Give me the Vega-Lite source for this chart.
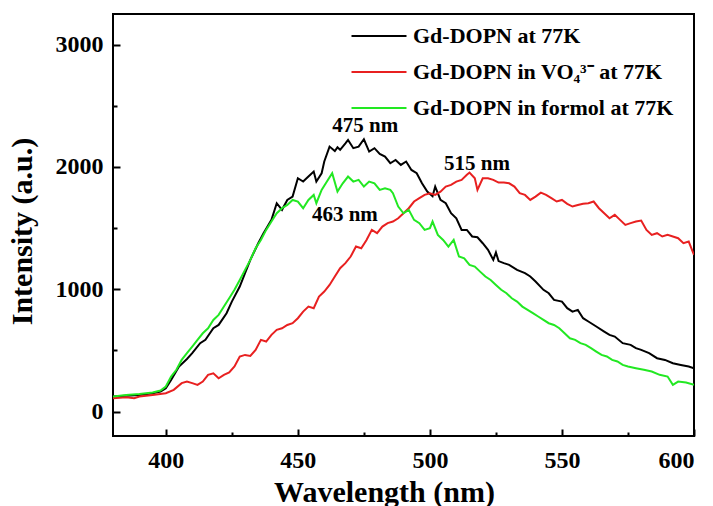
{
  "$schema": "https://vega.github.io/schema/vega-lite/v6.json",
  "width": 581,
  "height": 422,
  "autosize": {"type": "none"},
  "padding": {"left": 113, "top": 14, "right": 19, "bottom": 70},
  "background": "white",
  "config": {
    "view": {"stroke": "black", "strokeWidth": 2},
    "axis": {"grid": false, "domain": false, "tickColor": "black", "tickWidth": 2, "labelColor": "black", "titleColor": "black", "labelFont": "Liberation Serif", "titleFont": "Liberation Serif", "labelFontWeight": "bold", "titleFontWeight": "bold"}
  },
  "datasets": {
    "spectra": [
      {"series":"Gd-DOPN at 77K","wl":380,"intensity":123},{"series":"Gd-DOPN at 77K","wl":385,"intensity":130},{"series":"Gd-DOPN at 77K","wl":390,"intensity":136},{"series":"Gd-DOPN at 77K","wl":395,"intensity":150},{"series":"Gd-DOPN at 77K","wl":398,"intensity":163},{"series":"Gd-DOPN at 77K","wl":400,"intensity":191},{"series":"Gd-DOPN at 77K","wl":402,"intensity":259},{"series":"Gd-DOPN at 77K","wl":405,"intensity":368},{"series":"Gd-DOPN at 77K","wl":408,"intensity":430},{"series":"Gd-DOPN at 77K","wl":410,"intensity":477},{"series":"Gd-DOPN at 77K","wl":413,"intensity":559},{"series":"Gd-DOPN at 77K","wl":415,"intensity":586},{"series":"Gd-DOPN at 77K","wl":418,"intensity":681},{"series":"Gd-DOPN at 77K","wl":420,"intensity":708},{"series":"Gd-DOPN at 77K","wl":423,"intensity":804},{"series":"Gd-DOPN at 77K","wl":425,"intensity":899},{"series":"Gd-DOPN at 77K","wl":428,"intensity":1022},{"series":"Gd-DOPN at 77K","wl":430,"intensity":1131},{"series":"Gd-DOPN at 77K","wl":432,"intensity":1240},{"series":"Gd-DOPN at 77K","wl":435,"intensity":1376},{"series":"Gd-DOPN at 77K","wl":437,"intensity":1458},{"series":"Gd-DOPN at 77K","wl":440,"intensity":1567},{"series":"Gd-DOPN at 77K","wl":442,"intensity":1703},{"series":"Gd-DOPN at 77K","wl":444,"intensity":1649},{"series":"Gd-DOPN at 77K","wl":446,"intensity":1730},{"series":"Gd-DOPN at 77K","wl":448,"intensity":1757},{"series":"Gd-DOPN at 77K","wl":450,"intensity":1907},{"series":"Gd-DOPN at 77K","wl":452,"intensity":1880},{"series":"Gd-DOPN at 77K","wl":454,"intensity":1921},{"series":"Gd-DOPN at 77K","wl":456,"intensity":1962},{"series":"Gd-DOPN at 77K","wl":457,"intensity":1880},{"series":"Gd-DOPN at 77K","wl":459,"intensity":1948},{"series":"Gd-DOPN at 77K","wl":460,"intensity":2044},{"series":"Gd-DOPN at 77K","wl":462,"intensity":2166},{"series":"Gd-DOPN at 77K","wl":464,"intensity":2130},{"series":"Gd-DOPN at 77K","wl":465,"intensity":2160},{"series":"Gd-DOPN at 77K","wl":466,"intensity":2140},{"series":"Gd-DOPN at 77K","wl":468,"intensity":2193},{"series":"Gd-DOPN at 77K","wl":469,"intensity":2221},{"series":"Gd-DOPN at 77K","wl":471,"intensity":2153},{"series":"Gd-DOPN at 77K","wl":473,"intensity":2166},{"series":"Gd-DOPN at 77K","wl":475,"intensity":2226},{"series":"Gd-DOPN at 77K","wl":477,"intensity":2125},{"series":"Gd-DOPN at 77K","wl":479,"intensity":2153},{"series":"Gd-DOPN at 77K","wl":481,"intensity":2106},{"series":"Gd-DOPN at 77K","wl":483,"intensity":2084},{"series":"Gd-DOPN at 77K","wl":485,"intensity":2030},{"series":"Gd-DOPN at 77K","wl":487,"intensity":2057},{"series":"Gd-DOPN at 77K","wl":489,"intensity":2016},{"series":"Gd-DOPN at 77K","wl":491,"intensity":2044},{"series":"Gd-DOPN at 77K","wl":493,"intensity":1975},{"series":"Gd-DOPN at 77K","wl":495,"intensity":1948},{"series":"Gd-DOPN at 77K","wl":497,"intensity":1866},{"series":"Gd-DOPN at 77K","wl":499,"intensity":1798},{"series":"Gd-DOPN at 77K","wl":501,"intensity":1760},{"series":"Gd-DOPN at 77K","wl":502,"intensity":1839},{"series":"Gd-DOPN at 77K","wl":504,"intensity":1730},{"series":"Gd-DOPN at 77K","wl":506,"intensity":1703},{"series":"Gd-DOPN at 77K","wl":508,"intensity":1621},{"series":"Gd-DOPN at 77K","wl":510,"intensity":1580},{"series":"Gd-DOPN at 77K","wl":512,"intensity":1485},{"series":"Gd-DOPN at 77K","wl":514,"intensity":1485},{"series":"Gd-DOPN at 77K","wl":516,"intensity":1431},{"series":"Gd-DOPN at 77K","wl":518,"intensity":1425},{"series":"Gd-DOPN at 77K","wl":520,"intensity":1376},{"series":"Gd-DOPN at 77K","wl":522,"intensity":1322},{"series":"Gd-DOPN at 77K","wl":524,"intensity":1240},{"series":"Gd-DOPN at 77K","wl":525,"intensity":1300},{"series":"Gd-DOPN at 77K","wl":526,"intensity":1230},{"series":"Gd-DOPN at 77K","wl":528,"intensity":1213},{"series":"Gd-DOPN at 77K","wl":530,"intensity":1199},{"series":"Gd-DOPN at 77K","wl":533,"intensity":1158},{"series":"Gd-DOPN at 77K","wl":536,"intensity":1131},{"series":"Gd-DOPN at 77K","wl":538,"intensity":1104},{"series":"Gd-DOPN at 77K","wl":540,"intensity":1063},{"series":"Gd-DOPN at 77K","wl":543,"intensity":995},{"series":"Gd-DOPN at 77K","wl":545,"intensity":967},{"series":"Gd-DOPN at 77K","wl":547,"intensity":913},{"series":"Gd-DOPN at 77K","wl":550,"intensity":899},{"series":"Gd-DOPN at 77K","wl":552,"intensity":845},{"series":"Gd-DOPN at 77K","wl":554,"intensity":817},{"series":"Gd-DOPN at 77K","wl":556,"intensity":831},{"series":"Gd-DOPN at 77K","wl":558,"intensity":763},{"series":"Gd-DOPN at 77K","wl":560,"intensity":736},{"series":"Gd-DOPN at 77K","wl":563,"intensity":695},{"series":"Gd-DOPN at 77K","wl":566,"intensity":654},{"series":"Gd-DOPN at 77K","wl":568,"intensity":627},{"series":"Gd-DOPN at 77K","wl":570,"intensity":613},{"series":"Gd-DOPN at 77K","wl":573,"intensity":559},{"series":"Gd-DOPN at 77K","wl":576,"intensity":545},{"series":"Gd-DOPN at 77K","wl":578,"intensity":518},{"series":"Gd-DOPN at 77K","wl":580,"intensity":504},{"series":"Gd-DOPN at 77K","wl":583,"intensity":477},{"series":"Gd-DOPN at 77K","wl":586,"intensity":436},{"series":"Gd-DOPN at 77K","wl":589,"intensity":422},{"series":"Gd-DOPN at 77K","wl":592,"intensity":395},{"series":"Gd-DOPN at 77K","wl":595,"intensity":381},{"series":"Gd-DOPN at 77K","wl":598,"intensity":368},{"series":"Gd-DOPN at 77K","wl":600,"intensity":354},

      {"series":"Gd-DOPN in VO₄³⁻ at 77K","wl":380,"intensity":109},{"series":"Gd-DOPN in VO₄³⁻ at 77K","wl":385,"intensity":117},{"series":"Gd-DOPN in VO₄³⁻ at 77K","wl":388,"intensity":109},{"series":"Gd-DOPN in VO₄³⁻ at 77K","wl":390,"intensity":123},{"series":"Gd-DOPN in VO₄³⁻ at 77K","wl":395,"intensity":136},{"series":"Gd-DOPN in VO₄³⁻ at 77K","wl":400,"intensity":150},{"series":"Gd-DOPN in VO₄³⁻ at 77K","wl":403,"intensity":177},{"series":"Gd-DOPN in VO₄³⁻ at 77K","wl":406,"intensity":232},{"series":"Gd-DOPN in VO₄³⁻ at 77K","wl":408,"intensity":245},{"series":"Gd-DOPN in VO₄³⁻ at 77K","wl":410,"intensity":232},{"series":"Gd-DOPN in VO₄³⁻ at 77K","wl":412,"intensity":218},{"series":"Gd-DOPN in VO₄³⁻ at 77K","wl":414,"intensity":245},{"series":"Gd-DOPN in VO₄³⁻ at 77K","wl":416,"intensity":300},{"series":"Gd-DOPN in VO₄³⁻ at 77K","wl":418,"intensity":313},{"series":"Gd-DOPN in VO₄³⁻ at 77K","wl":420,"intensity":272},{"series":"Gd-DOPN in VO₄³⁻ at 77K","wl":422,"intensity":300},{"series":"Gd-DOPN in VO₄³⁻ at 77K","wl":424,"intensity":319},{"series":"Gd-DOPN in VO₄³⁻ at 77K","wl":426,"intensity":368},{"series":"Gd-DOPN in VO₄³⁻ at 77K","wl":428,"intensity":450},{"series":"Gd-DOPN in VO₄³⁻ at 77K","wl":430,"intensity":463},{"series":"Gd-DOPN in VO₄³⁻ at 77K","wl":432,"intensity":455},{"series":"Gd-DOPN in VO₄³⁻ at 77K","wl":434,"intensity":504},{"series":"Gd-DOPN in VO₄³⁻ at 77K","wl":436,"intensity":586},{"series":"Gd-DOPN in VO₄³⁻ at 77K","wl":438,"intensity":572},{"series":"Gd-DOPN in VO₄³⁻ at 77K","wl":440,"intensity":627},{"series":"Gd-DOPN in VO₄³⁻ at 77K","wl":442,"intensity":668},{"series":"Gd-DOPN in VO₄³⁻ at 77K","wl":444,"intensity":681},{"series":"Gd-DOPN in VO₄³⁻ at 77K","wl":446,"intensity":708},{"series":"Gd-DOPN in VO₄³⁻ at 77K","wl":448,"intensity":722},{"series":"Gd-DOPN in VO₄³⁻ at 77K","wl":450,"intensity":763},{"series":"Gd-DOPN in VO₄³⁻ at 77K","wl":452,"intensity":817},{"series":"Gd-DOPN in VO₄³⁻ at 77K","wl":454,"intensity":858},{"series":"Gd-DOPN in VO₄³⁻ at 77K","wl":456,"intensity":845},{"series":"Gd-DOPN in VO₄³⁻ at 77K","wl":458,"intensity":940},{"series":"Gd-DOPN in VO₄³⁻ at 77K","wl":460,"intensity":981},{"series":"Gd-DOPN in VO₄³⁻ at 77K","wl":462,"intensity":1035},{"series":"Gd-DOPN in VO₄³⁻ at 77K","wl":464,"intensity":1104},{"series":"Gd-DOPN in VO₄³⁻ at 77K","wl":466,"intensity":1172},{"series":"Gd-DOPN in VO₄³⁻ at 77K","wl":468,"intensity":1213},{"series":"Gd-DOPN in VO₄³⁻ at 77K","wl":470,"intensity":1267},{"series":"Gd-DOPN in VO₄³⁻ at 77K","wl":472,"intensity":1349},{"series":"Gd-DOPN in VO₄³⁻ at 77K","wl":474,"intensity":1335},{"series":"Gd-DOPN in VO₄³⁻ at 77K","wl":476,"intensity":1403},{"series":"Gd-DOPN in VO₄³⁻ at 77K","wl":478,"intensity":1485},{"series":"Gd-DOPN in VO₄³⁻ at 77K","wl":480,"intensity":1458},{"series":"Gd-DOPN in VO₄³⁻ at 77K","wl":482,"intensity":1512},{"series":"Gd-DOPN in VO₄³⁻ at 77K","wl":484,"intensity":1540},{"series":"Gd-DOPN in VO₄³⁻ at 77K","wl":486,"intensity":1553},{"series":"Gd-DOPN in VO₄³⁻ at 77K","wl":488,"intensity":1580},{"series":"Gd-DOPN in VO₄³⁻ at 77K","wl":490,"intensity":1621},{"series":"Gd-DOPN in VO₄³⁻ at 77K","wl":492,"intensity":1662},{"series":"Gd-DOPN in VO₄³⁻ at 77K","wl":494,"intensity":1717},{"series":"Gd-DOPN in VO₄³⁻ at 77K","wl":496,"intensity":1744},{"series":"Gd-DOPN in VO₄³⁻ at 77K","wl":498,"intensity":1771},{"series":"Gd-DOPN in VO₄³⁻ at 77K","wl":500,"intensity":1785},{"series":"Gd-DOPN in VO₄³⁻ at 77K","wl":502,"intensity":1771},{"series":"Gd-DOPN in VO₄³⁻ at 77K","wl":504,"intensity":1798},{"series":"Gd-DOPN in VO₄³⁻ at 77K","wl":506,"intensity":1839},{"series":"Gd-DOPN in VO₄³⁻ at 77K","wl":508,"intensity":1853},{"series":"Gd-DOPN in VO₄³⁻ at 77K","wl":510,"intensity":1880},{"series":"Gd-DOPN in VO₄³⁻ at 77K","wl":512,"intensity":1894},{"series":"Gd-DOPN in VO₄³⁻ at 77K","wl":514,"intensity":1935},{"series":"Gd-DOPN in VO₄³⁻ at 77K","wl":515,"intensity":1954},{"series":"Gd-DOPN in VO₄³⁻ at 77K","wl":517,"intensity":1907},{"series":"Gd-DOPN in VO₄³⁻ at 77K","wl":518,"intensity":1812},{"series":"Gd-DOPN in VO₄³⁻ at 77K","wl":520,"intensity":1907},{"series":"Gd-DOPN in VO₄³⁻ at 77K","wl":522,"intensity":1907},{"series":"Gd-DOPN in VO₄³⁻ at 77K","wl":524,"intensity":1894},{"series":"Gd-DOPN in VO₄³⁻ at 77K","wl":526,"intensity":1872},{"series":"Gd-DOPN in VO₄³⁻ at 77K","wl":528,"intensity":1872},{"series":"Gd-DOPN in VO₄³⁻ at 77K","wl":530,"intensity":1866},{"series":"Gd-DOPN in VO₄³⁻ at 77K","wl":532,"intensity":1839},{"series":"Gd-DOPN in VO₄³⁻ at 77K","wl":534,"intensity":1785},{"series":"Gd-DOPN in VO₄³⁻ at 77K","wl":536,"intensity":1771},{"series":"Gd-DOPN in VO₄³⁻ at 77K","wl":538,"intensity":1730},{"series":"Gd-DOPN in VO₄³⁻ at 77K","wl":540,"intensity":1757},{"series":"Gd-DOPN in VO₄³⁻ at 77K","wl":542,"intensity":1790},{"series":"Gd-DOPN in VO₄³⁻ at 77K","wl":544,"intensity":1771},{"series":"Gd-DOPN in VO₄³⁻ at 77K","wl":546,"intensity":1744},{"series":"Gd-DOPN in VO₄³⁻ at 77K","wl":548,"intensity":1717},{"series":"Gd-DOPN in VO₄³⁻ at 77K","wl":550,"intensity":1730},{"series":"Gd-DOPN in VO₄³⁻ at 77K","wl":552,"intensity":1698},{"series":"Gd-DOPN in VO₄³⁻ at 77K","wl":554,"intensity":1676},{"series":"Gd-DOPN in VO₄³⁻ at 77K","wl":556,"intensity":1689},{"series":"Gd-DOPN in VO₄³⁻ at 77K","wl":558,"intensity":1698},{"series":"Gd-DOPN in VO₄³⁻ at 77K","wl":560,"intensity":1703},{"series":"Gd-DOPN in VO₄³⁻ at 77K","wl":562,"intensity":1717},{"series":"Gd-DOPN in VO₄³⁻ at 77K","wl":564,"intensity":1662},{"series":"Gd-DOPN in VO₄³⁻ at 77K","wl":566,"intensity":1621},{"series":"Gd-DOPN in VO₄³⁻ at 77K","wl":568,"intensity":1580},{"series":"Gd-DOPN in VO₄³⁻ at 77K","wl":570,"intensity":1608},{"series":"Gd-DOPN in VO₄³⁻ at 77K","wl":572,"intensity":1567},{"series":"Gd-DOPN in VO₄³⁻ at 77K","wl":574,"intensity":1526},{"series":"Gd-DOPN in VO₄³⁻ at 77K","wl":576,"intensity":1540},{"series":"Gd-DOPN in VO₄³⁻ at 77K","wl":578,"intensity":1553},{"series":"Gd-DOPN in VO₄³⁻ at 77K","wl":580,"intensity":1561},{"series":"Gd-DOPN in VO₄³⁻ at 77K","wl":582,"intensity":1485},{"series":"Gd-DOPN in VO₄³⁻ at 77K","wl":584,"intensity":1444},{"series":"Gd-DOPN in VO₄³⁻ at 77K","wl":586,"intensity":1458},{"series":"Gd-DOPN in VO₄³⁻ at 77K","wl":588,"intensity":1431},{"series":"Gd-DOPN in VO₄³⁻ at 77K","wl":590,"intensity":1444},{"series":"Gd-DOPN in VO₄³⁻ at 77K","wl":592,"intensity":1431},{"series":"Gd-DOPN in VO₄³⁻ at 77K","wl":594,"intensity":1417},{"series":"Gd-DOPN in VO₄³⁻ at 77K","wl":596,"intensity":1376},{"series":"Gd-DOPN in VO₄³⁻ at 77K","wl":598,"intensity":1390},{"series":"Gd-DOPN in VO₄³⁻ at 77K","wl":600,"intensity":1281},

      {"series":"Gd-DOPN in formol at 77K","wl":380,"intensity":123},{"series":"Gd-DOPN in formol at 77K","wl":385,"intensity":136},{"series":"Gd-DOPN in formol at 77K","wl":390,"intensity":144},{"series":"Gd-DOPN in formol at 77K","wl":395,"intensity":155},{"series":"Gd-DOPN in formol at 77K","wl":398,"intensity":172},{"series":"Gd-DOPN in formol at 77K","wl":400,"intensity":204},{"series":"Gd-DOPN in formol at 77K","wl":402,"intensity":286},{"series":"Gd-DOPN in formol at 77K","wl":404,"intensity":341},{"series":"Gd-DOPN in formol at 77K","wl":406,"intensity":422},{"series":"Gd-DOPN in formol at 77K","wl":408,"intensity":477},{"series":"Gd-DOPN in formol at 77K","wl":410,"intensity":531},{"series":"Gd-DOPN in formol at 77K","wl":412,"intensity":586},{"series":"Gd-DOPN in formol at 77K","wl":414,"intensity":640},{"series":"Gd-DOPN in formol at 77K","wl":416,"intensity":681},{"series":"Gd-DOPN in formol at 77K","wl":418,"intensity":749},{"series":"Gd-DOPN in formol at 77K","wl":420,"intensity":790},{"series":"Gd-DOPN in formol at 77K","wl":422,"intensity":858},{"series":"Gd-DOPN in formol at 77K","wl":424,"intensity":926},{"series":"Gd-DOPN in formol at 77K","wl":426,"intensity":995},{"series":"Gd-DOPN in formol at 77K","wl":428,"intensity":1076},{"series":"Gd-DOPN in formol at 77K","wl":430,"intensity":1158},{"series":"Gd-DOPN in formol at 77K","wl":432,"intensity":1240},{"series":"Gd-DOPN in formol at 77K","wl":434,"intensity":1335},{"series":"Gd-DOPN in formol at 77K","wl":436,"intensity":1403},{"series":"Gd-DOPN in formol at 77K","wl":438,"intensity":1485},{"series":"Gd-DOPN in formol at 77K","wl":440,"intensity":1553},{"series":"Gd-DOPN in formol at 77K","wl":442,"intensity":1621},{"series":"Gd-DOPN in formol at 77K","wl":444,"intensity":1662},{"series":"Gd-DOPN in formol at 77K","wl":446,"intensity":1689},{"series":"Gd-DOPN in formol at 77K","wl":448,"intensity":1730},{"series":"Gd-DOPN in formol at 77K","wl":450,"intensity":1717},{"series":"Gd-DOPN in formol at 77K","wl":452,"intensity":1662},{"series":"Gd-DOPN in formol at 77K","wl":454,"intensity":1730},{"series":"Gd-DOPN in formol at 77K","wl":456,"intensity":1771},{"series":"Gd-DOPN in formol at 77K","wl":457,"intensity":1703},{"series":"Gd-DOPN in formol at 77K","wl":459,"intensity":1812},{"series":"Gd-DOPN in formol at 77K","wl":461,"intensity":1880},{"series":"Gd-DOPN in formol at 77K","wl":463,"intensity":1948},{"series":"Gd-DOPN in formol at 77K","wl":465,"intensity":1798},{"series":"Gd-DOPN in formol at 77K","wl":467,"intensity":1866},{"series":"Gd-DOPN in formol at 77K","wl":469,"intensity":1921},{"series":"Gd-DOPN in formol at 77K","wl":471,"intensity":1880},{"series":"Gd-DOPN in formol at 77K","wl":473,"intensity":1894},{"series":"Gd-DOPN in formol at 77K","wl":475,"intensity":1839},{"series":"Gd-DOPN in formol at 77K","wl":477,"intensity":1880},{"series":"Gd-DOPN in formol at 77K","wl":479,"intensity":1866},{"series":"Gd-DOPN in formol at 77K","wl":481,"intensity":1812},{"series":"Gd-DOPN in formol at 77K","wl":483,"intensity":1826},{"series":"Gd-DOPN in formol at 77K","wl":485,"intensity":1812},{"series":"Gd-DOPN in formol at 77K","wl":486,"intensity":1785},{"series":"Gd-DOPN in formol at 77K","wl":488,"intensity":1676},{"series":"Gd-DOPN in formol at 77K","wl":490,"intensity":1621},{"series":"Gd-DOPN in formol at 77K","wl":492,"intensity":1649},{"series":"Gd-DOPN in formol at 77K","wl":494,"intensity":1567},{"series":"Gd-DOPN in formol at 77K","wl":496,"intensity":1540},{"series":"Gd-DOPN in formol at 77K","wl":498,"intensity":1485},{"series":"Gd-DOPN in formol at 77K","wl":500,"intensity":1499},{"series":"Gd-DOPN in formol at 77K","wl":501,"intensity":1553},{"series":"Gd-DOPN in formol at 77K","wl":503,"intensity":1444},{"series":"Gd-DOPN in formol at 77K","wl":505,"intensity":1403},{"series":"Gd-DOPN in formol at 77K","wl":507,"intensity":1349},{"series":"Gd-DOPN in formol at 77K","wl":509,"intensity":1403},{"series":"Gd-DOPN in formol at 77K","wl":511,"intensity":1267},{"series":"Gd-DOPN in formol at 77K","wl":513,"intensity":1253},{"series":"Gd-DOPN in formol at 77K","wl":515,"intensity":1199},{"series":"Gd-DOPN in formol at 77K","wl":517,"intensity":1185},{"series":"Gd-DOPN in formol at 77K","wl":519,"intensity":1144},{"series":"Gd-DOPN in formol at 77K","wl":521,"intensity":1104},{"series":"Gd-DOPN in formol at 77K","wl":523,"intensity":1076},{"series":"Gd-DOPN in formol at 77K","wl":525,"intensity":1035},{"series":"Gd-DOPN in formol at 77K","wl":527,"intensity":995},{"series":"Gd-DOPN in formol at 77K","wl":529,"intensity":967},{"series":"Gd-DOPN in formol at 77K","wl":531,"intensity":926},{"series":"Gd-DOPN in formol at 77K","wl":533,"intensity":899},{"series":"Gd-DOPN in formol at 77K","wl":535,"intensity":858},{"series":"Gd-DOPN in formol at 77K","wl":537,"intensity":831},{"series":"Gd-DOPN in formol at 77K","wl":539,"intensity":804},{"series":"Gd-DOPN in formol at 77K","wl":541,"intensity":777},{"series":"Gd-DOPN in formol at 77K","wl":543,"intensity":749},{"series":"Gd-DOPN in formol at 77K","wl":545,"intensity":722},{"series":"Gd-DOPN in formol at 77K","wl":547,"intensity":708},{"series":"Gd-DOPN in formol at 77K","wl":549,"intensity":681},{"series":"Gd-DOPN in formol at 77K","wl":551,"intensity":640},{"series":"Gd-DOPN in formol at 77K","wl":553,"intensity":599},{"series":"Gd-DOPN in formol at 77K","wl":555,"intensity":586},{"series":"Gd-DOPN in formol at 77K","wl":557,"intensity":559},{"series":"Gd-DOPN in formol at 77K","wl":559,"intensity":545},{"series":"Gd-DOPN in formol at 77K","wl":561,"intensity":518},{"series":"Gd-DOPN in formol at 77K","wl":563,"intensity":490},{"series":"Gd-DOPN in formol at 77K","wl":565,"intensity":463},{"series":"Gd-DOPN in formol at 77K","wl":567,"intensity":450},{"series":"Gd-DOPN in formol at 77K","wl":569,"intensity":422},{"series":"Gd-DOPN in formol at 77K","wl":571,"intensity":409},{"series":"Gd-DOPN in formol at 77K","wl":573,"intensity":381},{"series":"Gd-DOPN in formol at 77K","wl":575,"intensity":368},{"series":"Gd-DOPN in formol at 77K","wl":578,"intensity":354},{"series":"Gd-DOPN in formol at 77K","wl":581,"intensity":341},{"series":"Gd-DOPN in formol at 77K","wl":584,"intensity":327},{"series":"Gd-DOPN in formol at 77K","wl":587,"intensity":300},{"series":"Gd-DOPN in formol at 77K","wl":590,"intensity":286},{"series":"Gd-DOPN in formol at 77K","wl":592,"intensity":218},{"series":"Gd-DOPN in formol at 77K","wl":594,"intensity":245},{"series":"Gd-DOPN in formol at 77K","wl":597,"intensity":237},{"series":"Gd-DOPN in formol at 77K","wl":600,"intensity":218}
    ],
    "peaks": [
      {"label": "475 nm", "wl": 475.5, "intensity": 2332},
      {"label": "515 nm", "wl": 517.8, "intensity": 2022},
      {"label": "463 nm", "wl": 467.8, "intensity": 1606}
    ]
  },
  "layer": [
    {
      "data": {"name": "spectra"},
      "mark": {"type": "line", "strokeWidth": 2, "clip": true},
      "encoding": {
        "x": {"field": "wl", "type": "quantitative", "scale": {"domain": [380, 600], "nice": false, "zero": false},
          "axis": {"orient": "bottom", "values": [400, 450, 500, 550, 600], "format": "d", "tickSize": -7, "labelPadding": 19, "labelFontSize": 24, "title": "Wavelength (nm)", "titleFontSize": 30, "titleX": 271, "titleY": 65, "titleBaseline": "alphabetic", "titleAlign": "center", "titleAnchor": null}},
        "y": {"field": "intensity", "type": "quantitative", "scale": {"domain": [-200, 3250], "nice": false, "zero": false},
          "axis": {"orient": "left", "values": [0, 1000, 2000, 3000], "format": "d", "tickSize": -7, "labelPadding": 17, "labelFontSize": 24, "title": "Intensity (a.u.)", "titleFontSize": 30, "titleAngle": -90, "titleX": -82, "titleY": 217, "titleBaseline": "alphabetic", "titleAlign": "center"}},
        "color": {"field": "series", "type": "nominal",
          "scale": {"domain": ["Gd-DOPN at 77K", "Gd-DOPN in VO₄³⁻ at 77K", "Gd-DOPN in formol at 77K"], "range": ["#000000", "#e82020", "#22e822"]},
          "legend": {"orient": "none", "legendX": 251, "legendY": 7, "title": null, "symbolType": "M-2,0H2", "symbolSize": 756, "symbolStrokeWidth": 2, "labelFont": "Liberation Serif", "labelFontSize": 22, "labelFontWeight": "bold", "labelColor": "black", "rowPadding": 10, "labelOffset": 19, "padding": 0, "labelLimit": 400}}
      }
    },
    {
      "data": {"name": "peaks"},
      "mark": {"type": "text", "font": "Liberation Serif", "fontWeight": "bold", "fontSize": 21, "color": "black", "align": "center", "baseline": "middle"},
      "encoding": {
        "x": {"field": "wl", "type": "quantitative", "axis": {"orient": "bottom", "values": [425, 475, 525, 575], "tickSize": -4, "labels": false, "title": null}},
        "y": {"field": "intensity", "type": "quantitative", "axis": {"orient": "left", "values": [500, 1500, 2500], "tickSize": -4, "labels": false, "title": null}},
        "text": {"field": "label"}
      }
    }
  ],
  "resolve": {"axis": {"x": "independent", "y": "independent"}}
}
